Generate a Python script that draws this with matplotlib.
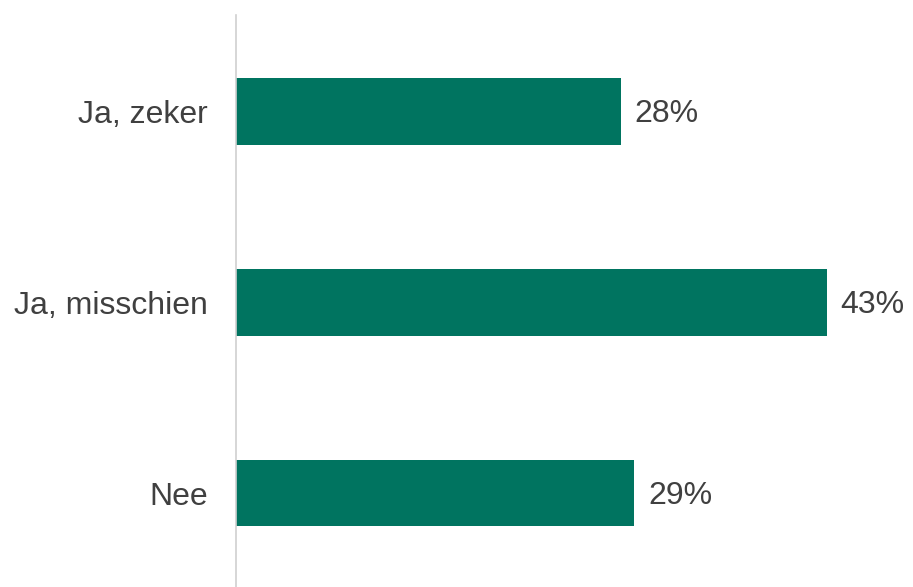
import matplotlib.pyplot as plt

categories = ["Ja, zeker", "Ja, misschien", "Nee"]
values = [28, 43, 29]
value_labels = ["28%", "43%", "29%"]

BAR_COLOR = "#007460"
TEXT_COLOR = "#404040"

plt.rcParams["font.family"] = ["Liberation Sans", "DejaVu Sans"]

fig = plt.figure(figsize=(9.13, 5.87), dpi=100)
ax = fig.add_axes([236 / 913, 0, 673 / 913, 572 / 587])

ypos = list(range(len(categories)))
ax.barh(ypos, values, height=0.35, color=BAR_COLOR)
ax.set_ylim(2 + 94 / 191, -96.5 / 191)
ax.set_xlim(0, 49)

for y, v, lab in zip(ypos, values, value_labels):
    ax.annotate(lab, (v, y), xytext=(10, -2), textcoords="offset points",
                va="center", ha="left", fontsize=23, color=TEXT_COLOR)

ax.set_yticks(ypos)
ax.set_yticklabels(categories, fontsize=23, color=TEXT_COLOR)
ax.tick_params(axis="y", length=0, pad=20)
ax.set_xticks([])

for side in ["top", "right", "bottom"]:
    ax.spines[side].set_visible(False)
ax.spines["left"].set_color("#d0d0d0")
ax.spines["left"].set_linewidth(1.2)

fig.savefig("out.png", dpi=100)
